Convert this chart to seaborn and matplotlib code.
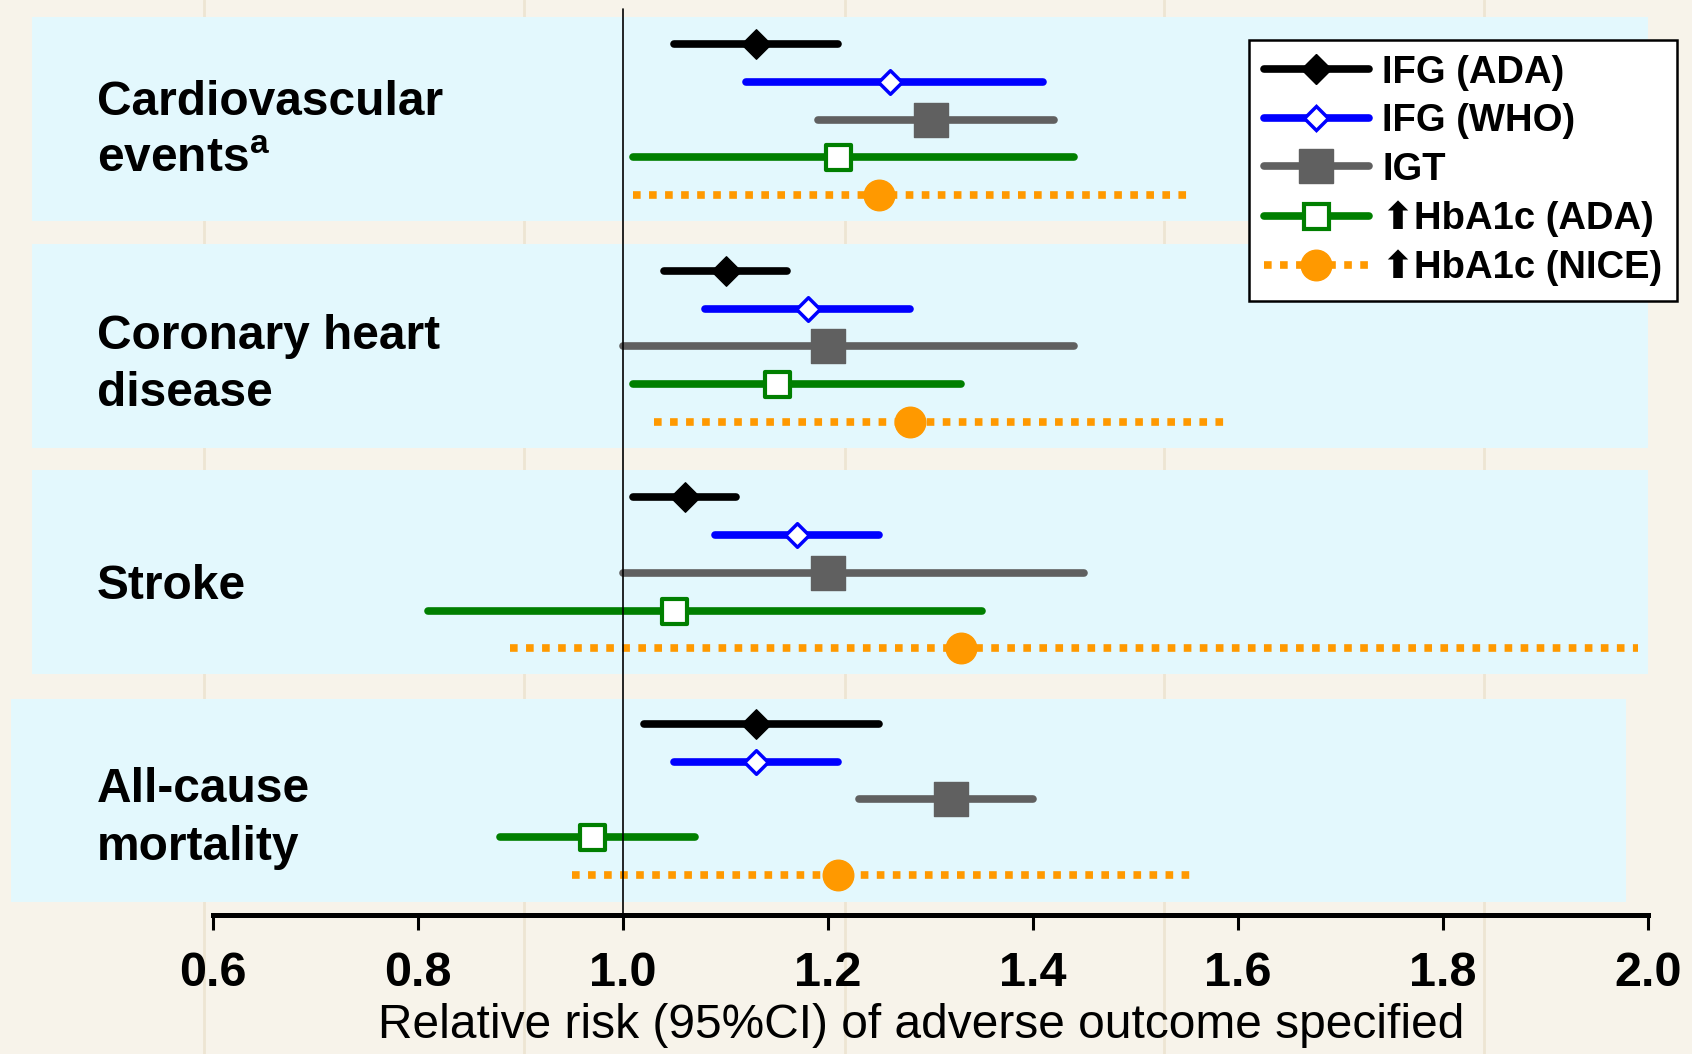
import numpy as np
import pandas as pd
import matplotlib
matplotlib.use("Agg")
import matplotlib.pyplot as plt
from matplotlib.lines import Line2D
import seaborn as sns

# Outcomes (one band each) and the five definitions (rows inside a band)
outcomes = ["Cardiovascular\nevents$^{\\mathbf{a}}$", "Coronary heart\ndisease", "Stroke", "All-cause\nmortality"]
series = ["IFG (ADA)", "IFG (WHO)", "IGT", "\u2b06HbA1c (ADA)", "\u2b06HbA1c (NICE)"]

# relative risk, lower and upper 95% CI, per outcome
ifg_ada_est = [1.13, 1.10, 1.06, 1.13]
ifg_ada_lo = [1.05, 1.04, 1.01, 1.02]
ifg_ada_hi = [1.21, 1.16, 1.11, 1.25]

ifg_who_est = [1.26, 1.18, 1.17, 1.13]
ifg_who_lo = [1.12, 1.08, 1.09, 1.05]
ifg_who_hi = [1.41, 1.28, 1.25, 1.21]

igt_est = [1.30, 1.20, 1.20, 1.32]
igt_lo = [1.19, 1.00, 1.00, 1.23]
igt_hi = [1.42, 1.44, 1.45, 1.40]

hba1c_ada_est = [1.21, 1.15, 1.05, 0.97]
hba1c_ada_lo = [1.01, 1.01, 0.81, 0.88]
hba1c_ada_hi = [1.44, 1.33, 1.35, 1.07]

hba1c_nice_est = [1.25, 1.28, 1.33, 1.21]
hba1c_nice_lo = [1.01, 1.03, 0.89, 0.95]
hba1c_nice_hi = [1.55, 1.59, 1.99, 1.56]

xticks = [0.6, 0.8, 1.0, 1.2, 1.4, 1.6, 1.8, 2.0]

est_all = [ifg_ada_est, ifg_who_est, igt_est, hba1c_ada_est, hba1c_nice_est]
lo_all = [ifg_ada_lo, ifg_who_lo, igt_lo, hba1c_ada_lo, hba1c_nice_lo]
hi_all = [ifg_ada_hi, ifg_who_hi, igt_hi, hba1c_ada_hi, hba1c_nice_hi]

# look of each series
styles = [
    dict(color="black", marker="D", ms=15, mfc="black", mew=1, ls="-"),
    dict(color="#0000ff", marker="D", ms=12, mfc="white", mew=2.5, ls="-"),
    dict(color="#606060", marker="s", ms=24, mfc="#606060", mew=1, ls="-"),
    dict(color="#007f00", marker="s", ms=18, mfc="white", mew=3, ls="-"),
    dict(color="#ff9900", marker="o", ms=22, mfc="#ff9900", mew=1, ls=(0, (1, 1.1))),
]

sns.set_theme(style="white")
plt.rcParams["font.family"] = ["Liberation Sans", "DejaVu Sans"]
plt.rcParams["mathtext.fontset"] = "custom"
plt.rcParams["mathtext.bf"] = "Liberation Sans:bold"
plt.rcParams["mathtext.rm"] = "Liberation Sans"
plt.rcParams["text.color"] = "black"
plt.rcParams["xtick.color"] = "black"
plt.rcParams["axes.labelcolor"] = "black"

bg = "#f7f3ea"
band = "#e3f8fd"
fig = plt.figure(figsize=(16.92, 10.54), dpi=100, facecolor=bg)

# faint background stripes of the slide
for xp in [204, 524, 845, 1164, 1484]:
    fig.add_artist(Line2D([xp / 1692, xp / 1692], [0, 1], color="#ede5d3", lw=2, zorder=0))

ax = fig.add_axes([0, 0.1319, 1, 0.8681])
ax.patch.set_alpha(0)
px = 1.4 / 1435
ax.set_xlim(0.6 - 213 * px, 2.0 + (1692 - 1648) * px)
ax.set_ylim(23.06, -1.17)

# blue bands behind each outcome
for g in range(4):
    if g < 3:
        ax.axhspan(6 * g - 0.72, 6 * g + 4.69, xmin=0.0191, xmax=0.974, color=band, lw=0, zorder=0)
    else:
        ax.axhspan(6 * g - 0.66, 6 * g + 4.71, xmin=0.0064, xmax=0.961, color=band, lw=0, zorder=0)

# reference line at RR = 1
ax.plot([1.0, 1.0], [-0.94, 23.06], color="black", lw=1.2, zorder=2.5)

for s, (name, st) in enumerate(zip(series, styles)):
    rows = [6 * g + s for g in range(4)]
    seg = pd.DataFrame({
        "x": lo_all[s] + hi_all[s],
        "y": rows + rows,
        "unit": list(range(4)) + list(range(4)),
    })
    sns.lineplot(data=seg, x="x", y="y", units="unit", estimator=None, sort=False,
                 color=st["color"], lw=5.5, linestyle=st["ls"], legend=False, ax=ax, zorder=2)
    pts = pd.DataFrame({"x": est_all[s], "y": rows})
    sns.scatterplot(data=pts, x="x", y="y", marker=st["marker"], s=st["ms"] ** 2,
                    color=st["mfc"], edgecolor=st["color"], linewidth=st["mew"],
                    legend=False, ax=ax, zorder=3)

# outcome labels
label_y = [2.3, 2.5, 2.35, 2.5]
for g, lab in enumerate(outcomes):
    ax.text(97 * px + ax.get_xlim()[0], 6 * g + label_y[g], lab, fontsize=34.5, fontweight="bold",
            va="center", ha="left", linespacing=1.36)

# axis styling
for sp in ["left", "right", "top"]:
    ax.spines[sp].set_visible(False)
ax.spines["bottom"].set_bounds(0.6, 2.0)
ax.spines["bottom"].set_linewidth(3.6)
ax.spines["bottom"].set_color("black")
ax.set_yticks([])
ax.set_xticks(xticks)
ax.set_xticklabels([f"{t:.1f}" for t in xticks])
ax.tick_params(axis="x", direction="out", length=11, width=2.2, pad=15, labelsize=35,
               bottom=True, colors="black")
for lab in ax.get_xticklabels():
    lab.set_fontweight("bold")
ax.set_xlabel("")
ax.set_ylabel("")

fig.text(921 / 1692, 1 - 1026 / 1054, "Relative risk (95%CI) of adverse outcome specified",
         fontsize=34.5, ha="center", va="center")

# legend
handles = [Line2D([], [], color=st["color"], lw=5.5, ls=st["ls"], marker=st["marker"], ms=st["ms"],
                  mfc=st["mfc"], mec=st["color"], mew=st["mew"]) for st in styles]
leg = ax.legend(handles, series, loc="upper right", bbox_to_anchor=(1677 / 1692, 1 - 40 / 1054),
                bbox_transform=fig.transFigure, borderaxespad=0, frameon=True, fancybox=False,
                prop=dict(size=27.5, weight="bold"), handlelength=2.75, handletextpad=0.35,
                labelspacing=0.33, borderpad=0.38, numpoints=1)
leg.get_frame().set_edgecolor("black")
leg.get_frame().set_linewidth(1.8)
leg.get_frame().set_facecolor("white")
leg.get_frame().set_alpha(1)

fig.savefig("out.png", dpi=100, facecolor=bg)
